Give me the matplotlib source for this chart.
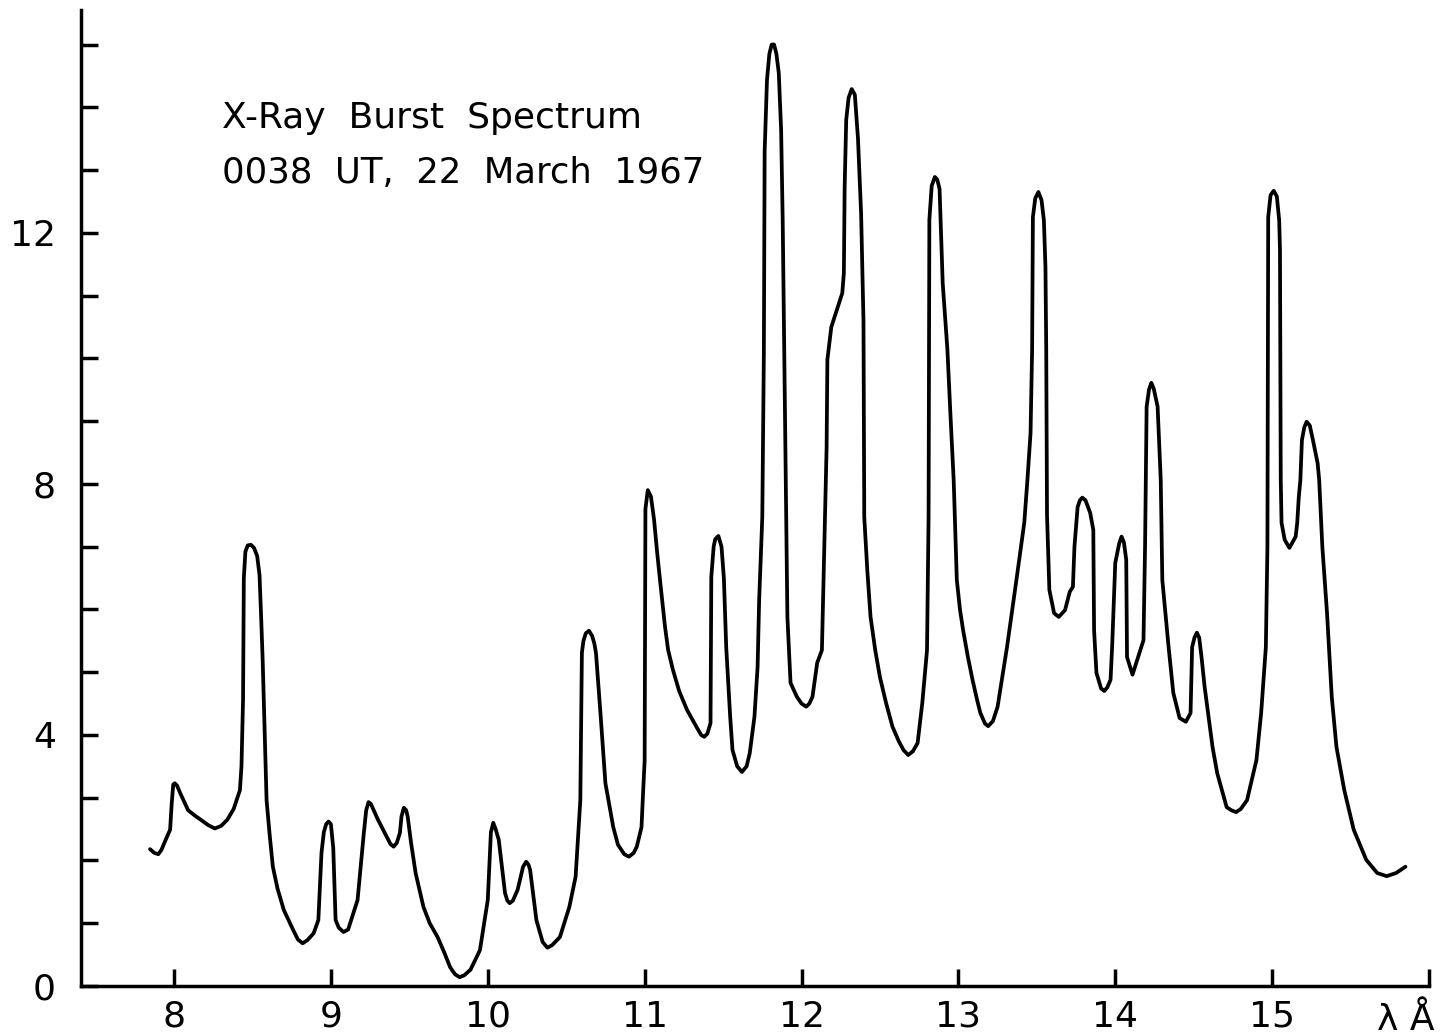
import matplotlib
matplotlib.use("Agg")
import matplotlib.pyplot as plt
from matplotlib.ticker import FixedLocator

# Traced spectrum (wavelength in Angstrom, intensity), grouped by segment
wavelength = [
    7.847, 7.875, 7.90, 7.92, 7.94, 7.975, 7.985, 7.995, 8.005, 8.02, 8.04, 8.09, 8.13, 8.17, 8.22, 8.26, 8.30, 8.34, 8.38, 8.42,
    8.43, 8.44, 8.445, 8.455, 8.47, 8.49, 8.51, 8.53, 8.545, 8.555, 8.565, 8.575, 8.59, 8.61, 8.63, 8.66, 8.70, 8.76, 8.79, 8.82, 8.85, 8.89,
    8.92, 8.94, 8.955, 8.97, 8.985, 9.00, 9.015, 9.03, 9.05, 9.08, 9.11, 9.17, 9.21, 9.225, 9.24, 9.255, 9.30, 9.38, 9.40, 9.42,
    9.44, 9.45, 9.465, 9.48, 9.49, 9.51, 9.54, 9.59, 9.63, 9.68, 9.72, 9.76, 9.79, 9.82, 9.85, 9.89, 9.95, 10.00, 10.02, 10.035, 10.05, 10.07, 10.11,
    10.125, 10.14, 10.16, 10.19, 10.225, 10.245, 10.26, 10.27, 10.31, 10.35, 10.38, 10.41, 10.46, 10.52, 10.56, 10.59, 10.60, 10.61, 10.625, 10.645,
    10.665, 10.68, 10.69, 10.72, 10.75, 10.80, 10.83, 10.87, 10.90, 10.93, 10.95, 10.98, 10.99, 11.00, 11.005, 11.02, 11.04, 11.06, 11.08, 11.10, 11.13, 11.15,
    11.18, 11.22, 11.27, 11.33, 11.36, 11.38, 11.40, 11.42, 11.425, 11.44, 11.45, 11.47, 11.49, 11.505, 11.52, 11.545, 11.56, 11.59, 11.62, 11.65, 11.67,
    11.70, 11.72, 11.73, 11.75, 11.76, 11.765, 11.78, 11.795, 11.81, 11.825, 11.84, 11.855, 11.87, 11.88, 11.89, 11.91, 11.93, 11.97, 12.00, 12.03,
    12.05, 12.07, 12.10, 12.13, 12.14, 12.16, 12.165, 12.19, 12.26, 12.27, 12.275, 12.285, 12.30, 12.32, 12.34, 12.36, 12.38, 12.395, 12.40, 12.42, 12.44, 12.47,
    12.50, 12.54, 12.58, 12.62, 12.65, 12.68, 12.71, 12.74, 12.77, 12.80, 12.81, 12.815, 12.83, 12.85, 12.865, 12.88, 12.90, 12.93, 12.95, 12.97, 12.99, 13.01, 13.03, 13.06,
    13.09, 13.12, 13.14, 13.17, 13.19, 13.22, 13.25, 13.31, 13.37, 13.42, 13.44, 13.46, 13.47, 13.475, 13.49, 13.51, 13.53, 13.545, 13.555, 13.56, 13.565,
    13.58, 13.61, 13.64, 13.68, 13.71, 13.73, 13.74, 13.76, 13.775, 13.79, 13.81, 13.84, 13.86, 13.865, 13.88, 13.91, 13.93, 13.95, 13.97, 13.98,
    14.00, 14.025, 14.04, 14.055, 14.07, 14.075, 14.11, 14.16, 14.18, 14.19, 14.20, 14.215, 14.23, 14.245, 14.27, 14.29, 14.30, 14.34, 14.37, 14.41,
    14.45, 14.48, 14.49, 14.505, 14.52, 14.535, 14.55, 14.57, 14.62, 14.65, 14.71, 14.74, 14.77, 14.80, 14.84, 14.90, 14.93, 14.96, 14.97, 14.975,
    14.99, 15.01, 15.03, 15.045, 15.05, 15.055, 15.06, 15.08, 15.11, 15.15, 15.16, 15.17, 15.18, 15.19, 15.205, 15.22, 15.24, 15.26, 15.29, 15.30,
    15.32, 15.35, 15.38, 15.41, 15.46, 15.52, 15.60, 15.67, 15.73, 15.79, 15.85,
]
intensity = [
    2.18, 2.12, 2.10, 2.17, 2.29, 2.49, 2.90, 3.21, 3.23, 3.19, 3.07, 2.80, 2.72, 2.65, 2.56, 2.51, 2.55, 2.65, 2.82, 3.12,
    3.50, 4.56, 6.50, 6.92, 7.02, 7.03, 6.98, 6.85, 6.55, 5.90, 5.20, 4.30, 2.96, 2.40, 1.90, 1.55, 1.21, 0.89, 0.74, 0.68, 0.73, 0.84,
    1.05, 2.12, 2.45, 2.58, 2.62, 2.58, 2.20, 1.05, 0.93, 0.86, 0.90, 1.37, 2.44, 2.80, 2.93, 2.90, 2.65, 2.26, 2.22, 2.28,
    2.44, 2.70, 2.84, 2.80, 2.69, 2.30, 1.80, 1.26, 1.00, 0.78, 0.55, 0.30, 0.19, 0.14, 0.17, 0.26, 0.57, 1.37, 2.45, 2.60, 2.50, 2.33, 1.48,
    1.36, 1.32, 1.36, 1.53, 1.90, 1.98, 1.93, 1.85, 1.05, 0.70, 0.61, 0.65, 0.78, 1.26, 1.74, 2.96, 5.31, 5.50, 5.62, 5.66,
    5.58, 5.45, 5.30, 4.29, 3.23, 2.53, 2.25, 2.10, 2.06, 2.12, 2.22, 2.53, 3.08, 3.59, 7.60, 7.90, 7.80, 7.43, 6.90, 6.42, 5.72, 5.35,
    5.04, 4.70, 4.40, 4.13, 4.00, 3.97, 4.02, 4.19, 6.52, 7.00, 7.12, 7.17, 7.00, 6.50, 5.40, 4.30, 3.76, 3.50, 3.41, 3.50, 3.71,
    4.29, 5.08, 6.15, 7.47, 10.09, 13.30, 14.44, 14.85, 15.00, 15.00, 14.85, 14.55, 13.64, 12.21, 10.09, 5.88, 4.83, 4.61, 4.50, 4.45,
    4.50, 4.61, 5.15, 5.35, 6.42, 8.59, 9.98, 10.50, 11.04, 11.36, 12.73, 13.80, 14.15, 14.29, 14.20, 13.50, 12.30, 10.60, 7.47, 6.60, 5.88, 5.35,
    4.92, 4.50, 4.13, 3.90, 3.76, 3.68, 3.74, 3.87, 4.51, 5.35, 7.47, 12.21, 12.75, 12.89, 12.85, 12.70, 11.20, 10.14, 9.07, 8.06, 6.47, 6.00, 5.67, 5.25,
    4.88, 4.55, 4.35, 4.18, 4.14, 4.22, 4.45, 5.40, 6.47, 7.38, 8.06, 8.81, 10.14, 12.25, 12.55, 12.65, 12.52, 12.20, 11.46, 10.14, 7.50,
    6.31, 5.94, 5.88, 5.99, 6.28, 6.36, 7.00, 7.63, 7.74, 7.78, 7.74, 7.54, 7.27, 5.67, 4.99, 4.74, 4.70, 4.76, 4.88, 5.40,
    6.74, 7.05, 7.16, 7.07, 6.79, 5.24, 4.96, 5.35, 5.51, 7.00, 9.23, 9.50, 9.61, 9.52, 9.23, 8.06, 6.47, 5.40, 4.67, 4.27,
    4.21, 4.35, 5.40, 5.55, 5.63, 5.55, 5.24, 4.76, 3.81, 3.39, 2.85, 2.80, 2.77, 2.82, 2.96, 3.60, 4.35, 5.40, 7.00, 12.25,
    12.60, 12.67, 12.58, 12.20, 11.73, 8.06, 7.38, 7.11, 6.98, 7.16, 7.38, 7.79, 8.06, 8.70, 8.90, 8.99, 8.93, 8.70, 8.33, 8.06,
    7.00, 5.94, 4.61, 3.81, 3.12, 2.49, 2.01, 1.80, 1.75, 1.80, 1.90,
]

x_ticks = [8, 9, 10, 11, 12, 13, 14, 15, 16]
x_tick_labels = ["8", "9", "10", "11", "12", "13", "14", "15", ""]
y_major = [0, 4, 8, 12]
y_minor = [1, 2, 3, 5, 6, 7, 9, 10, 11, 13, 14, 15]
title_lines = ["X-Ray  Burst  Spectrum", "0038  UT,  22  March  1967"]
x_unit = "λ Å"

plt.rcParams['font.family'] = ['DejaVu Sans']
W, H = 1441, 1036
fig = plt.figure(figsize=(W / 100, H / 100), dpi=100)
left_px, right_px, bottom_px, top_px = 81, 1429, 986, 10
ax = fig.add_axes([left_px / W, 1 - bottom_px / H,
                   (right_px - left_px) / W, (bottom_px - top_px) / H])

ax.plot(wavelength, intensity, color='black', lw=2.7,
        solid_joinstyle='round', solid_capstyle='round')

ax.set_xlim(7.407, 16.0)
ax.set_ylim(0, 15.55)
for s in ['top', 'right']:
    ax.spines[s].set_visible(False)
for s in ['left', 'bottom']:
    ax.spines[s].set_linewidth(2.5)

ax.set_xticks(x_ticks)
ax.set_xticklabels(x_tick_labels)
ax.set_yticks(y_major)
ax.set_yticklabels([str(v) for v in y_major])
ax.yaxis.set_minor_locator(FixedLocator(y_minor))
ax.tick_params(axis='both', which='both', direction='in', length=12, width=2.5,
               labelsize=26)
ax.tick_params(axis='y', which='major', pad=18)
ax.tick_params(axis='x', which='major', pad=10)

ax.text(15.85, -0.70, x_unit, ha='center', va='baseline', fontsize=26,
        clip_on=False)

fig.text(222 / W, 1 - 118 / H, title_lines[0], fontsize=26, va='center', ha='left')
fig.text(222 / W, 1 - 173 / H, title_lines[1], fontsize=25.5, va='center', ha='left')

fig.savefig("out.png", dpi=100)
